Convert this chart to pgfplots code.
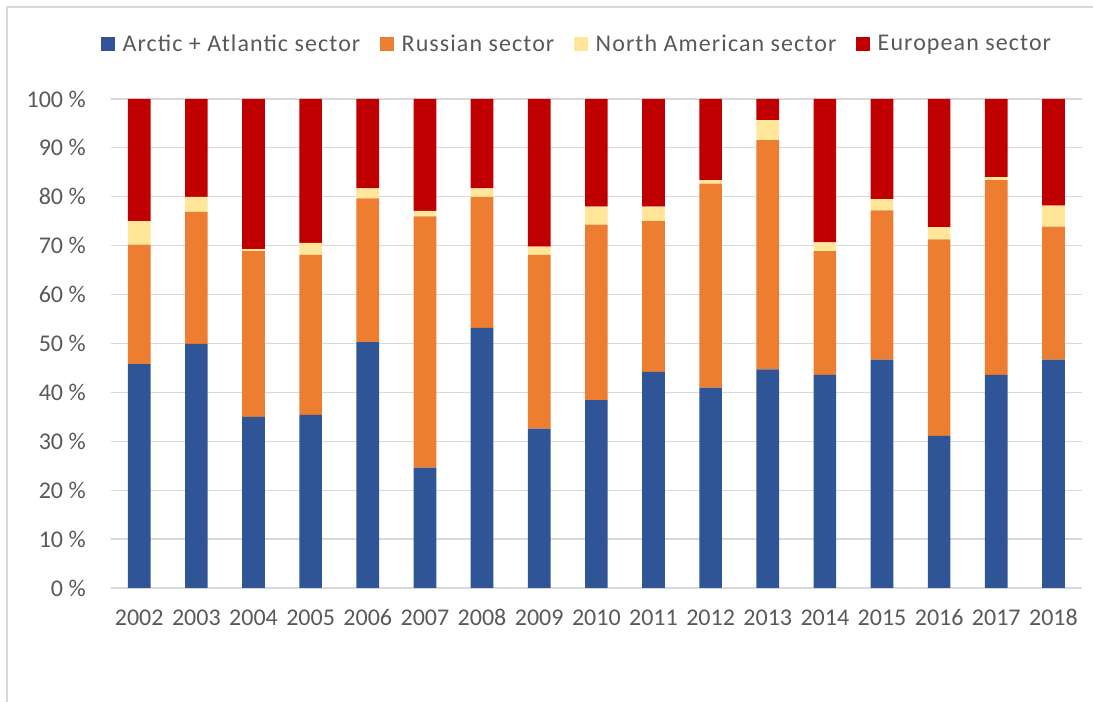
\documentclass[border=0pt]{standalone}
\usepackage{pgfplots}
\pgfplotsset{compat=1.18}
\usepackage{pgfplotstable}
\usepackage{fontspec}
\setmainfont{Carlito}
\newfontfamily\legfont[LetterSpace=4.5]{Carlito}
\definecolor{cblue}{HTML}{2F5597}
\definecolor{corange}{HTML}{ED7D31}
\definecolor{cyellow}{HTML}{FFE699}
\definecolor{cred}{HTML}{C00000}
\definecolor{ctext}{HTML}{595959}
\definecolor{cgrid}{HTML}{D9D9D9}

\pgfplotstableread{
x year arctic russian northam european
0  2002 45.8 24.4 4.8 25.0
1  2003 49.9 27.0 3.1 20.0
2  2004 35.0 33.9 0.4 30.7
3  2005 35.4 32.7 2.5 29.4
4  2006 50.3 29.4 2.0 18.3
5  2007 24.6 51.4 1.1 22.9
6  2008 53.2 26.8 1.7 18.3
7  2009 32.6 35.5 1.7 30.2
8  2010 38.4 35.9 3.7 22.0
9  2011 44.2 30.8 3.0 22.0
10 2012 41.0 41.7 0.7 16.6
11 2013 44.7 46.9 4.1 4.3
12 2014 43.6 25.3 1.8 29.3
13 2015 46.7 30.5 2.3 20.5
14 2016 31.1 40.2 2.5 26.2
15 2017 43.6 39.8 0.6 16.0
16 2018 46.7 27.2 4.3 21.8
}\datatable

\begin{document}
\begin{tikzpicture}[x=1pt,y=1pt]
\useasboundingbox (0,0) rectangle (819.75,526.5);
\draw[cgrid, line width=1.2pt] (5.25,0) -- (5.25,521.25) -- (819.75,521.25);
\begin{axis}[
  at={(83pt,85.5pt)}, anchor=south west,
  width=728.5pt, height=366.75pt, scale only axis,
  ybar stacked, bar width=17pt,
  xmin=-0.5, xmax=16.5, ymin=0, ymax=100,
  xtick=data,
  xticklabels={2002,2003,2004,2005,2006,2007,2008,2009,2010,2011,2012,2013,2014,2015,2016,2017,2018},
  ytick={0,10,...,100},
  yticklabel={\pgfmathprintnumber{\tick} \%},
  /pgf/number format/assume math mode=true,
  ymajorgrids, major grid style={cgrid, line width=0.9pt},
  axis line style={draw=none},
  major tick length=0pt,
  tick label style={font=\fontsize{18}{21}\selectfont, text=ctext},
  xticklabel style={anchor=base, inner sep=0pt, yshift=-28.5pt},
  yticklabel style={anchor=east, inner sep=0pt, xshift=-18.5pt},
  legend columns=4,
  legend style={at={(-0.0141,1.1125)}, anchor=west, draw=none, fill=none,
    font=\legfont\fontsize{18}{21}\selectfont, text=ctext,
    nodes={inner sep=0pt},
    /tikz/every odd column/.append style={column sep=6pt},
    /tikz/every even column/.append style={column sep=15pt}},
  legend image code/.code={\fill[#1] (0pt,-5pt) rectangle (10pt,5pt);},
  legend cell align=left,
]
\addplot[fill=cblue, draw=none] table[x=x, y=arctic] {\datatable};
\addplot[fill=corange, draw=none] table[x=x, y=russian] {\datatable};
\addplot[fill=cyellow, draw=none] table[x=x, y=northam] {\datatable};
\addplot[fill=cred, draw=none] table[x=x, y=european] {\datatable};
\legend{Arctic + Atlantic sector, Russian sector, North American sector, European sector}
\end{axis}
\end{tikzpicture}
\end{document}
